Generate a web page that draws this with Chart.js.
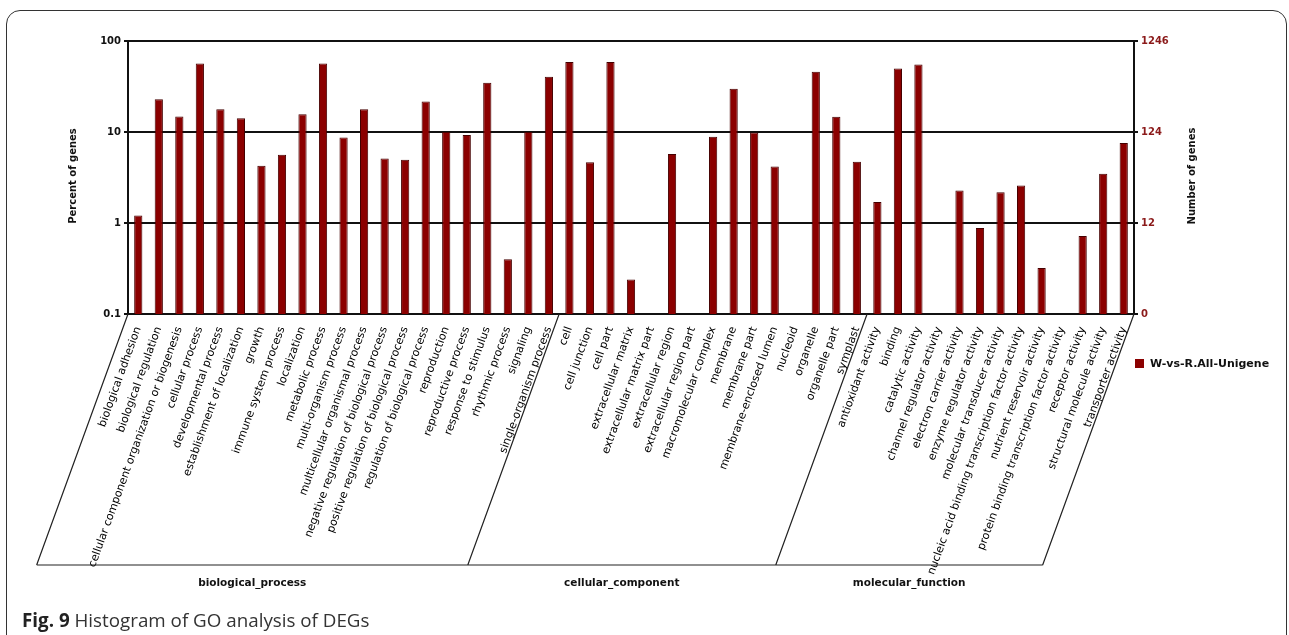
<!DOCTYPE html>
<html>
<head>
<meta charset="utf-8">
<script src="https://cdn.jsdelivr.net/npm/chart.js@4.4.1/dist/chart.umd.min.js"></script>
<style>
  body { margin: 0; background: #fff; }
  #figure { position: relative; width: 1289px; height: 635px; overflow: hidden; }
  #frame { position: absolute; left: 6px; top: 10px; width: 1281px; height: 700px; border: 1.6px solid #333; border-radius: 14px; box-sizing: border-box; }
  #caption { position: absolute; left: 22px; top: 611px; font-family: "Open Sans"; font-size: 18.8px; line-height: 1; color: #333; white-space: nowrap; }
  #caption b { color: #222; }
  canvas { position: absolute; left: 0; top: 0; }
</style>
</head>
<body>
<div id="figure">
  <div id="frame"></div>
  <canvas id="goChart" width="1289" height="635"></canvas>
  <div id="caption"><b>Fig. 9</b> Histogram of GO analysis of DEGs</div>
</div>

<script>
// GO terms per ontology
const bpTerms = [
  'biological adhesion', 'biological regulation', 'cellular component organization or biogenesis',
  'cellular process', 'developmental process', 'establishment of localization', 'growth',
  'immune system process', 'localization', 'metabolic process', 'multi-organism process',
  'multicellular organismal process', 'negative regulation of biological process',
  'positive regulation of biological process', 'regulation of biological process', 'reproduction',
  'reproductive process', 'response to stimulus', 'rhythmic process', 'signaling', 'single-organism process'
];
const ccTerms = [
  'cell', 'cell junction', 'cell part', 'extracellular matrix', 'extracellular matrix part',
  'extracellular region', 'extracellular region part', 'macromolecular complex', 'membrane',
  'membrane part', 'membrane-enclosed lumen', 'nucleoid', 'organelle', 'organelle part', 'symplast'
];
const mfTerms = [
  'antioxidant activity', 'binding', 'catalytic activity', 'channel regulator activity',
  'electron carrier activity', 'enzyme regulator activity', 'molecular transducer activity',
  'nucleic acid binding transcription factor activity', 'nutrient reservoir activity',
  'protein binding transcription factor activity', 'receptor activity',
  'structural molecule activity', 'transporter activity'
];

// percent of genes (null = no genes in that term)
const bpPercent = [1.21, 22.9, 14.8, 56.6, 17.8, 14.2, 4.27, 5.63, 15.7, 56.6, 8.71,
  17.8, 5.13, 4.97, 21.7, 10.0, 9.25, 34.8, 0.40, 10.0, 40.4];
const ccPercent = [58.9, 4.64, 58.9, 0.24, null, 5.73, null, 8.87, 29.9, 9.88, 4.17,
  null, 45.8, 14.7, 4.72];
const mfPercent = [1.70, 49.9, 55.2, null, 2.28, 0.88, 2.18, 2.58, 0.32, null, 0.72, 3.47, 7.57];

const percentTicks = [0.1, 1, 10, 100];
const countTickLabels = ['0', '12', '124', '1246'];
const groupNames = ['biological_process', 'cellular_component', 'molecular_function'];
const seriesName = 'W-vs-R.All-Unigene';

const groups = [bpTerms, ccTerms, mfTerms];
const labels = [].concat(bpTerms, ccTerms, mfTerms);
const values = [].concat(bpPercent, ccPercent, mfPercent);

const barColor = '#8b0000';
const ink = '#111';
const FONT = 'DejaVu Sans';
const SLANT = 70;

// slanted group boxes under the labels, group names, legend and axis titles
const decorations = {
  id: 'decorations',
  afterDraw(chart) {
    const ctx = chart.ctx;
    const area = chart.chartArea;
    const xs = chart.scales.x;
    const baseY = 565;
    const shift = (baseY - area.bottom) / Math.tan(SLANT * Math.PI / 180);

    const edges = [area.left];
    let count = 0;
    groups.forEach(g => {
      count += g.length;
      edges.push(count < labels.length
        ? (xs.getPixelForTick(count - 1) + xs.getPixelForTick(count)) / 2
        : area.right);
    });

    ctx.save();
    ctx.strokeStyle = '#222';
    ctx.lineWidth = 1.2;
    ctx.beginPath();
    edges.forEach(e => {
      ctx.moveTo(e, area.bottom);
      ctx.lineTo(e - shift, baseY);
    });
    ctx.moveTo(edges[0] - shift, baseY);
    ctx.lineTo(edges[edges.length - 1] - shift, baseY);
    ctx.stroke();

    ctx.fillStyle = ink;
    ctx.font = 'bold 10.5px "' + FONT + '"';
    ctx.textAlign = 'center';
    ctx.textBaseline = 'middle';
    groupNames.forEach((name, i) => {
      ctx.fillText(name, (edges[i] + edges[i + 1]) / 2 - shift, 583);
    });

    // legend
    ctx.fillStyle = barColor;
    ctx.fillRect(1135, 359, 9, 9);
    ctx.fillStyle = ink;
    ctx.font = 'bold 11px "' + FONT + '"';
    ctx.textAlign = 'left';
    ctx.fillText(seriesName, 1150, 364);

    // axis titles
    ctx.font = 'bold 10px "' + FONT + '"';
    ctx.textAlign = 'center';
    [[73, 'Percent of genes'], [1192, 'Number of genes']].forEach(([x, t]) => {
      ctx.save();
      ctx.translate(x, 176);
      ctx.rotate(-Math.PI / 2);
      ctx.fillText(t, 0, 0);
      ctx.restore();
    });
    ctx.restore();
  }
};

const fixTicks = scale => { scale.ticks = percentTicks.map(v => ({ value: v })); };

new Chart(document.getElementById('goChart'), {
  type: 'bar',
  data: {
    labels: labels,
    datasets: [{
      label: seriesName,
      data: values,
      backgroundColor: barColor,
      borderColor: '#450000',
      borderWidth: 1,
      barPercentage: 0.4,
      categoryPercentage: 1.0
    }]
  },
  options: {
    responsive: false,
    animation: false,
    layout: { padding: { top: 41, left: 0, right: 0, bottom: 0 } },
    plugins: { legend: { display: false }, tooltip: { enabled: false } },
    scales: {
      x: {
        grid: { display: false },
        border: { display: false },
        ticks: {
          autoSkip: false, minRotation: SLANT, maxRotation: SLANT, padding: 3,
          color: '#000', font: { family: FONT, size: 11 }
        },
        afterFit: s => { s.height = 321; }
      },
      y: {
        type: 'logarithmic', position: 'left', min: 0.1, max: 100,
        afterBuildTicks: fixTicks,
        afterFit: s => { s.width = 128; },
        grid: { color: ink, lineWidth: 2, tickLength: 4 },
        border: { color: ink, width: 2 },
        ticks: {
          color: ink, padding: 3, font: { family: FONT, size: 10, weight: 'bold' },
          callback: v => String(v)
        }
      },
      y2: {
        type: 'logarithmic', position: 'right', min: 0.1, max: 100,
        afterBuildTicks: fixTicks,
        afterFit: s => { s.width = 155; },
        grid: { drawOnChartArea: false, color: ink, lineWidth: 2, tickLength: 4 },
        border: { color: ink, width: 2 },
        ticks: {
          color: '#8b1a1a', padding: 3, font: { family: FONT, size: 10, weight: 'bold' },
          callback: (v, i) => countTickLabels[i]
        }
      }
    }
  },
  plugins: [decorations]
});
</script>
</body>
</html>
